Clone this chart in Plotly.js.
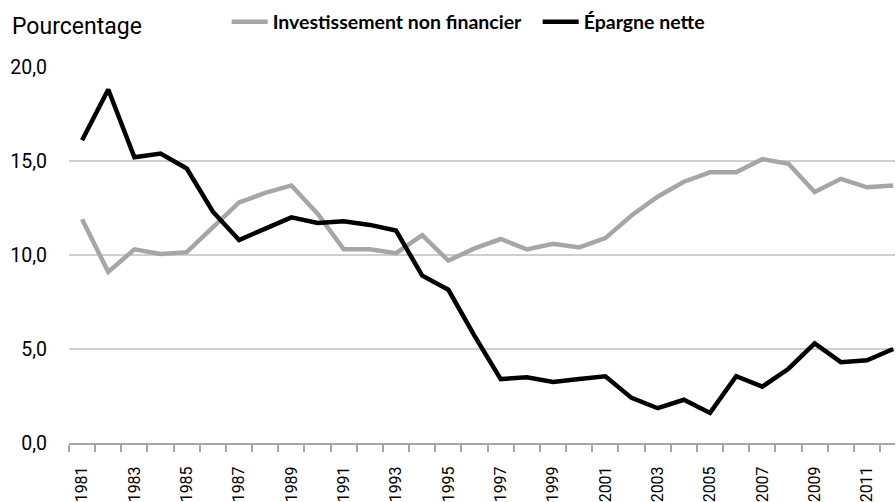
<!DOCTYPE html>
<html>
<head>
<meta charset="utf-8">
<script src="https://cdn.plot.ly/plotly-3.0.1.min.js"></script>
<style>html,body{margin:0;padding:0;background:#fff}#chart{width:896px;height:502px}</style>
</head>
<body>
<div id="chart"></div>
<script>
const years = [1981,1982,1983,1984,1985,1986,1987,1988,1989,1990,1991,1992,1993,1994,1995,1996,1997,1998,1999,2000,2001,2002,2003,2004,2005,2006,2007,2008,2009,2010,2011,2012];
const investissement = [11.9,9.1,10.3,10.05,10.15,11.5,12.8,13.3,13.7,12.2,10.3,10.3,10.1,11.05,9.7,10.35,10.85,10.3,10.6,10.4,10.9,12.1,13.1,13.9,14.4,14.4,15.1,14.85,13.35,14.05,13.6,13.7];
const epargne = [16.1,18.8,15.2,15.4,14.6,12.3,10.8,11.4,12.0,11.7,11.8,11.6,11.3,8.9,8.15,5.7,3.4,3.5,3.25,3.4,3.55,2.4,1.85,2.3,1.6,3.55,3.0,3.95,5.3,4.3,4.4,5.0];
const seriesNames = ["Investissement non financier", "Épargne nette"];
const yTicks = [0,5,10,15,20];
const yAxisLabel = "Pourcentage";

const labelYears = years.filter(y => y % 2 === 1);
const boundaries = years.map(y => y - 0.5);
const narrow = "Roboto, sans-serif";

const traces = [
  {x: years, y: investissement, name: seriesNames[0], type: 'scatter', mode: 'lines',
   line: {color: '#a6a6a6', width: 4.5}},
  {x: years, y: epargne, name: seriesNames[1], type: 'scatter', mode: 'lines',
   line: {color: '#000000', width: 4.5}}
];

const layout = {
  width: 896, height: 502,
  margin: {l: 69, r: 1, t: 67, b: 59},
  paper_bgcolor: '#fff', plot_bgcolor: '#fff',
  separators: ', ',
  showlegend: true,
  legend: {orientation: 'h', xref: 'container', yref: 'container', x: 0.253, y: 1 - 22/502,
           xanchor: 'left', yanchor: 'middle', entrywidth: 260, entrywidthmode: 'pixels',
           itemwidth: 36,
           font: {family: "Lato, 'Open Sans', sans-serif", size: 19.5, color: '#000', weight: 'bold'},
           bgcolor: 'rgba(0,0,0,0)'},
  xaxis: {type: 'linear', range: [1980.5, 2012.07], showgrid: false, zeroline: false,
          showline: true, linecolor: '#a6a6a6', linewidth: 2,
          tickmode: 'array', tickvals: labelYears, ticktext: labelYears.map(String),
          tickangle: -90, ticks: '', ticklabelstandoff: 15,
          tickfont: {family: narrow, size: 16, color: '#000'},
          minor: {tickmode: 'array', tickvals: boundaries, ticks: 'outside', ticklen: 7, tickwidth: 2, tickcolor: '#a6a6a6', showgrid: false}},
  yaxis: {range: [0, 20], tickmode: 'array', tickvals: yTicks, tickformat: '.1f',
          showgrid: true, gridcolor: '#cfcfcf', gridwidth: 1.2, zeroline: false, showline: false,
          ticks: '', ticklabelstandoff: 21,
          tickfont: {family: narrow, size: 19.5, color: '#000'}},
  annotations: [{text: yAxisLabel, xref: 'paper', yref: 'paper', x: (10-69)/826, y: 1 + 40/376,
                 xanchor: 'left', yanchor: 'middle', showarrow: false,
                 font: {family: narrow, size: 23, color: '#000'}}]
};

Plotly.newPlot('chart', traces, layout, {displayModeBar: false, staticPlot: true});
</script>
</body>
</html>
